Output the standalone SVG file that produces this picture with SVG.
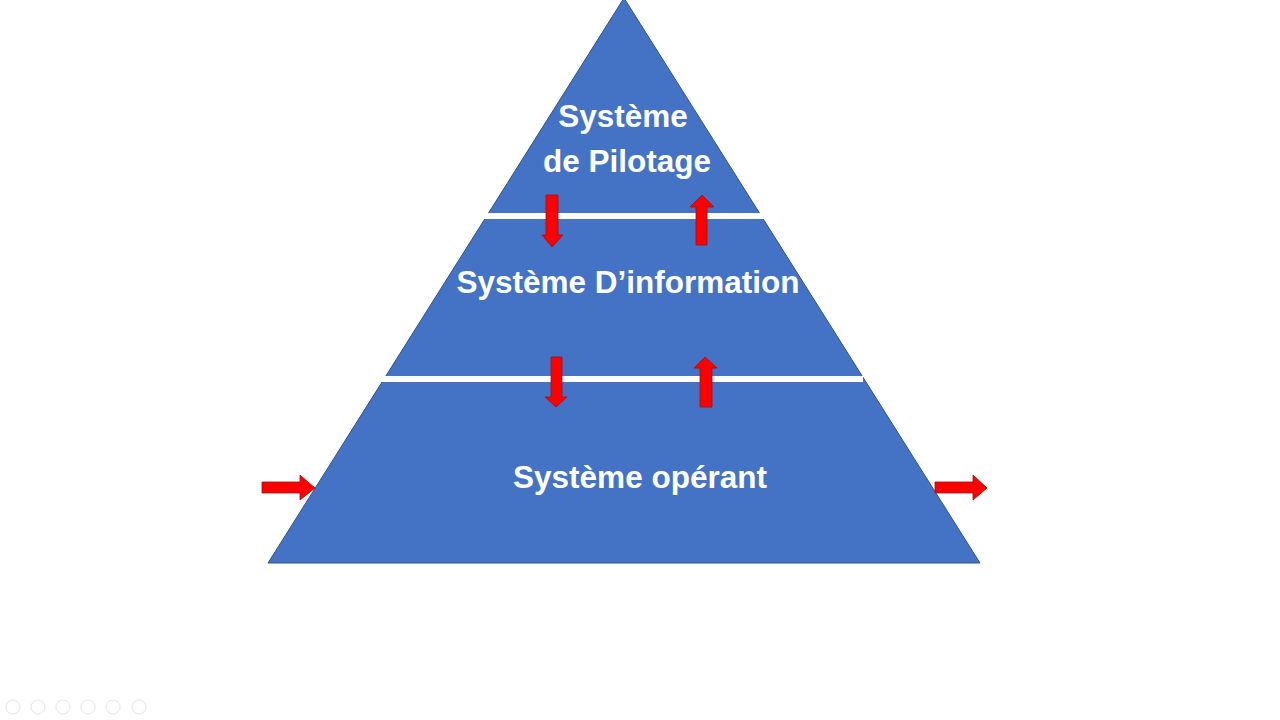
<svg xmlns="http://www.w3.org/2000/svg" width="1280" height="720" viewBox="0 0 1280 720">
<style>
.lbl{font-family:"Liberation Sans",Arial,sans-serif;font-weight:bold;font-size:31.5px;fill:#ffffff;text-anchor:middle}
.arr{fill:#ff0000;stroke:#a01010;stroke-width:0.8}
.band{fill:#ffffff}
.ctl{fill:none;stroke:#e6e6e6;stroke-width:1}
</style>
<rect width="1280" height="720" fill="#ffffff"/>
<g id="pyramid">
<polygon points="624,-2 980,563 268,563" fill="#4472C4" stroke="#2F528F" stroke-width="1"/>
<rect class="band" x="484" y="213" width="280" height="6"/>
<rect class="band" x="381" y="376" width="482" height="6"/>
</g>
<g id="pilotage">
<text class="lbl" x="623" y="127">Système</text>
<text class="lbl" x="627" y="172">de Pilotage</text>
</g>
<g id="information">
<text class="lbl" x="628" y="293">Système D’information</text>
</g>
<g id="operant">
<text class="lbl" x="640" y="488">Système opérant</text>
</g>
<g id="connectors">
<polygon class="arr" points="546,195 558,195 558,235 563,235 552,247 542,235 546,235"/>
<polygon class="arr" points="702,195 714,207 707,207 707,245 696,245 696,207 690,207"/>
<polygon class="arr" points="551,357 562,357 562,397 567,397 556,407 545,397 551,397"/>
<polygon class="arr" points="705,357 717,368 712,368 712,407 700,407 700,368 694,368"/>
<polygon class="arr" points="262,482 300,482 300,475 315,488 300,500 300,493 262,493"/>
<polygon class="arr" points="935,482 973,482 973,475 987,488 973,500 973,493 935,493"/>
</g>
<g id="controls">
<circle class="ctl" cx="13" cy="707" r="7"/>
<circle class="ctl" cx="38" cy="707" r="7"/>
<circle class="ctl" cx="63" cy="707" r="7"/>
<circle class="ctl" cx="88" cy="707" r="7"/>
<circle class="ctl" cx="113" cy="707" r="7"/>
<circle class="ctl" cx="139" cy="707" r="7"/>
</g>
</svg>
